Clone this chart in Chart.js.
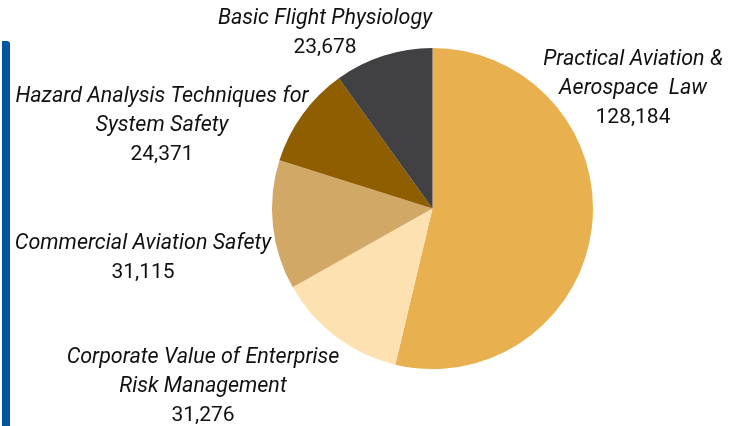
<!DOCTYPE html>
<html>
<head>
<meta charset="utf-8">
<script src="https://cdn.jsdelivr.net/npm/chart.js@4.4.1/dist/chart.umd.min.js"></script>
<style>
  html, body { margin: 0; padding: 0; background: #fff; }
  #wrap { position: relative; width: 729px; height: 426px; overflow: hidden; }
  #bar { position: absolute; left: 2px; top: 41px; width: 8px; height: 400px; background: #0055a0; border-top-right-radius: 3px; }
  canvas { position: absolute; left: 0; top: 0; }
</style>
</head>
<body>
<div id="wrap">
  <div id="bar"></div>
  <canvas id="myChart" width="729" height="426"></canvas>
</div>
<script>
// data
const courses = [
  ['Practical Aviation &', 'Aerospace  Law'],
  ['Corporate Value of Enterprise', 'Risk Management'],
  ['Commercial Aviation Safety'],
  ['Hazard Analysis Techniques for', 'System Safety'],
  ['Basic Flight Physiology']
];
const enrolments = [128184, 31276, 31115, 24371, 23678];
const sliceColors = ['#e8b04f', '#fde1b0', '#d2a866', '#8f5e00', '#414042'];

// where each label block sits (center x, first line y)
const labelPos = [
  [633, 60],
  [203, 358],
  [143, 244],
  [162, 97],
  [325, 19]
];

// label plugin
const sliceLabels = {
  id: 'sliceLabels',
  afterDraw(chart) {
    const { ctx } = chart;
    const meta = chart.getDatasetMeta(0);
    ctx.save();
    ctx.fillStyle = '#111';
    ctx.textAlign = 'center';
    ctx.textBaseline = 'middle';
    meta.data.forEach((arc, i) => {
      const [x, y0] = labelPos[i];
      let y = y0;
      ctx.font = 'italic 21.5px Roboto';
      courses[i].forEach(line => {
        ctx.fillText(line, x, y);
        y += 29;
      });
      ctx.font = '21px Roboto';
      ctx.fillText(enrolments[i].toLocaleString('en-US'), x, y);
    });
    ctx.restore();
  }
};

const config = {
  type: 'pie',
  data: {
    labels: courses.map(c => c.join(' ')),
    datasets: [{
      data: enrolments,
      backgroundColor: sliceColors,
      borderWidth: 0
    }]
  },
  options: {
    responsive: false,
    animation: false,
    layout: { padding: { left: 272, right: 136, top: 48, bottom: 57 } },
    plugins: {
      legend: { display: false },
      tooltip: { enabled: false }
    }
  },
  plugins: [sliceLabels]
};

const myChart = new Chart(document.getElementById('myChart'), config);
</script>
</body>
</html>
